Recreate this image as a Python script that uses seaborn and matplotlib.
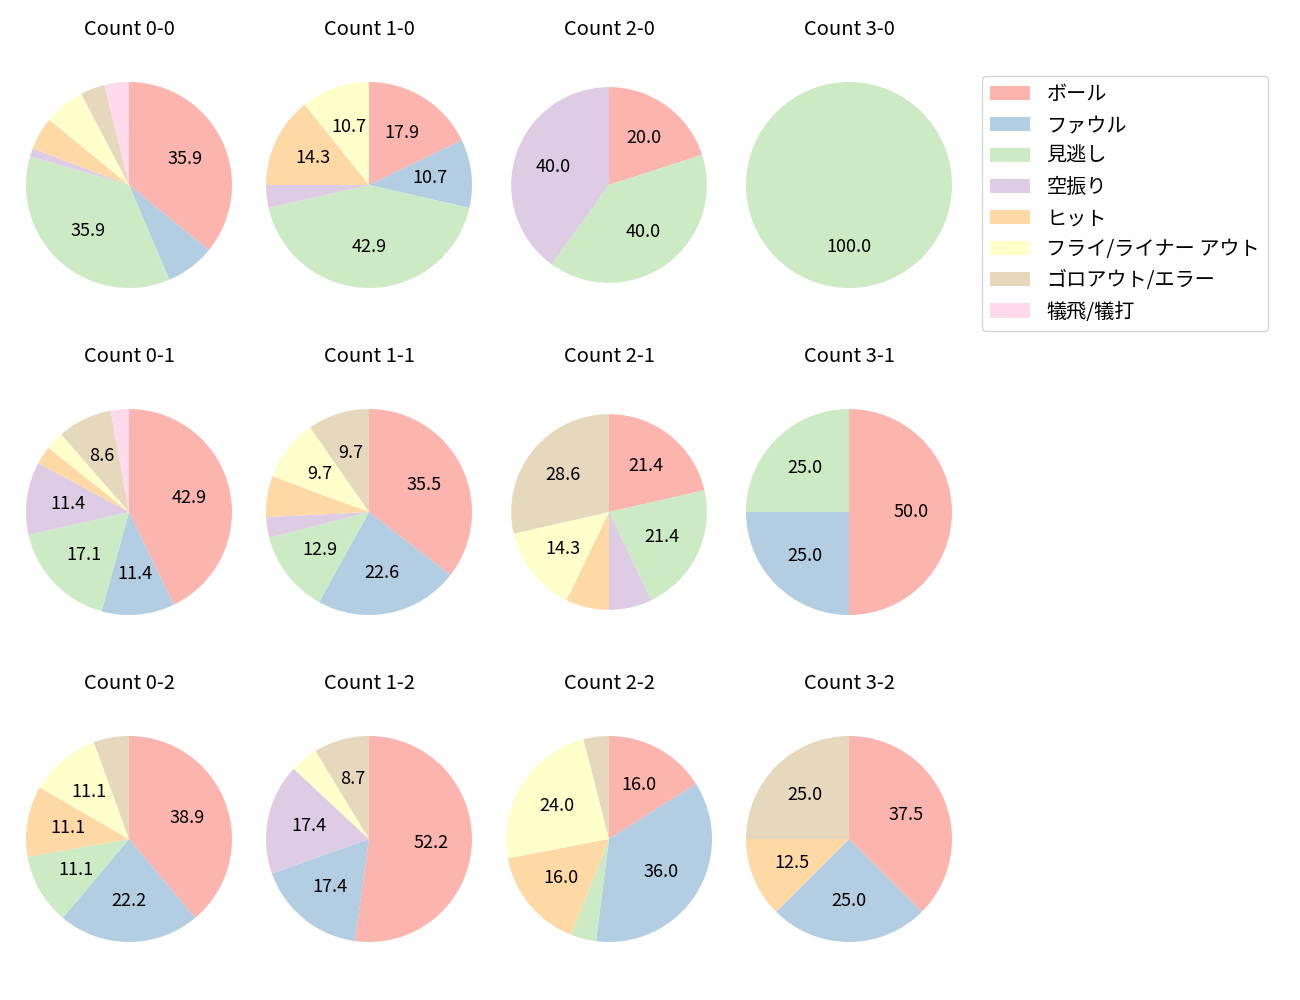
import matplotlib
matplotlib.use("Agg")
import matplotlib.pyplot as plt
import matplotlib.patches as mpatches
import seaborn as sns

sns.set_theme(style="white")
plt.rcParams['font.family'] = ['Noto Sans CJK JP', 'DejaVu Sans']
plt.rcParams['text.color'] = 'black'

categories = ["ボール", "ファウル", "見逃し", "空振り", "ヒット",
              "フライ/ライナー アウト", "ゴロアウト/エラー", "犠飛/犠打"]

counts = ["0-0", "1-0", "2-0", "3-0",
          "0-1", "1-1", "2-1", "3-1",
          "0-2", "1-2", "2-2", "3-2"]

c_0_0 = [28, 6, 28, 1, 4, 5, 3, 3]
c_1_0 = [5, 3, 12, 1, 4, 3, 0, 0]
c_2_0 = [1, 0, 2, 2, 0, 0, 0, 0]
c_3_0 = [0, 0, 1, 0, 0, 0, 0, 0]
c_0_1 = [15, 4, 6, 4, 1, 1, 3, 1]
c_1_1 = [11, 7, 4, 1, 2, 3, 3, 0]
c_2_1 = [3, 0, 3, 1, 1, 2, 4, 0]
c_3_1 = [2, 1, 1, 0, 0, 0, 0, 0]
c_0_2 = [7, 4, 2, 0, 2, 2, 1, 0]
c_1_2 = [12, 4, 0, 4, 0, 1, 2, 0]
c_2_2 = [4, 9, 1, 0, 4, 6, 1, 0]
c_3_2 = [3, 2, 0, 0, 1, 0, 2, 0]

values = [c_0_0, c_1_0, c_2_0, c_3_0,
          c_0_1, c_1_1, c_2_1, c_3_1,
          c_0_2, c_1_2, c_2_2, c_3_2]

colors = sns.color_palette("Pastel1", 9)[:8]

W, H = 1300, 1000
fig = plt.figure(figsize=(13, 10), dpi=100)

col_x = [129, 369, 609, 849]
row_y = [185, 512, 839]
r_px = 103
size = 2.5 * r_px

def autopct(p):
    return f"{p:.1f}" if p >= 8 else ""

for i, (cnt, vals) in enumerate(zip(counts, values)):
    row, col = divmod(i, 4)
    cx, cy = col_x[col], row_y[row]
    ax = fig.add_axes([(cx - size / 2) / W, 1 - (cy + size / 2) / H, size / W, size / H])
    radius = 0.95 if cnt in ("2-0", "2-1") else 1.0
    ax.pie(vals, colors=colors, startangle=90, counterclock=False,
           autopct=autopct, pctdistance=0.6, radius=radius,
           wedgeprops={'linewidth': 0, 'edgecolor': 'none'},
           textprops={'fontsize': 13, 'color': 'black'})
    ax.set_xlim(-1.25, 1.25)
    ax.set_ylim(-1.25, 1.25)
    ax.set_title(f"Count {cnt}", fontsize=14.5, pad=15, color='black')

handles = [mpatches.Patch(facecolor=c, edgecolor='none', label=l)
           for c, l in zip(colors, categories)]
leg = fig.legend(handles=handles, loc='upper left', bbox_to_anchor=(982 / W, 1 - 76 / H),
                 fontsize=14.5, handlelength=2.0, handletextpad=0.8, labelspacing=0.5,
                 frameon=True, borderaxespad=0)
for t in leg.get_texts():
    t.set_color('black')

fig.savefig("out.png", dpi=100, facecolor='white')
